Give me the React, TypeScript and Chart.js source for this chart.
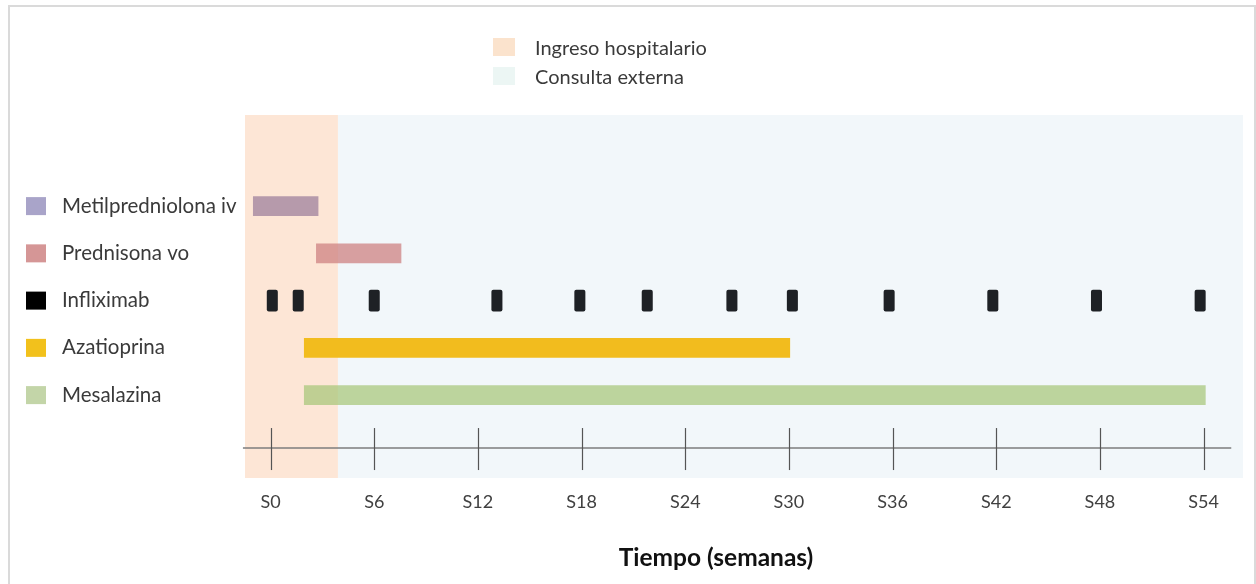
import React, { useEffect, useRef } from "react";
import { Chart, registerables } from "chart.js";

Chart.register(...registerables);

// ---- data ----
const treatments = ["Metilpredniolona iv", "Prednisona vo", "Infliximab", "Azatioprina", "Mesalazina"];
const treatmentStart = [-1.0, 2.65, null, 1.95, 1.95];
const treatmentEnd = [2.75, 7.55, null, 30.05, 54.1];
const infliximabRow = 2;
const infliximabWeeks = [0.1, 1.6, 6.0, 13.1, 17.9, 21.8, 26.7, 30.2, 35.8, 41.8, 47.8, 53.8];
const tickWeeks = [0, 6, 12, 18, 24, 30, 36, 42, 48, 54];
const tickLabels = ["S0", "S6", "S12", "S18", "S24", "S30", "S36", "S42", "S48", "S54"];
const phaseLabels = ["Ingreso hospitalario", "Consulta externa"];
const phaseStart = [-1.48, 3.9];
const phaseEnd = [3.9, 56.28];
const axisTitle = "Tiempo (semanas)";

// ---- layout / style ----
const X_MIN = -1.48;
const X_MAX = 56.28;
const Y_MIN = -1.928;
const Y_MAX = 5.754;
const AXIS_Y = 5.12;
const AXIS_FROM = -1.6;
const AXIS_TO = 55.6;
const DOSE_HALF = 0.3;
const FONT = "Lato, 'Open Sans', sans-serif";

const barColors = ["#b69aab", "rgba(206,130,130,0.75)", "#1e2125", "#f2bc1e", "rgba(166,198,121,0.72)"];
const keyColors = ["#a9a4c9", "#d59696", "#000000", "#f2c11c", "#c3d5a8"];
const phaseColors = ["#fde6d6", "#f2f7fa"];
const phaseKeyColors = ["#fbe3cd", "#ecf6f4"];

const backgroundPlugin = {
  id: "phaseBackground",
  beforeDatasetsDraw(chart: any) {
    const { ctx, chartArea, scales } = chart;
    const x = scales.x;
    const y = scales.y;
    ctx.save();
    phaseStart.forEach((s, i) => {
      const x0 = x.getPixelForValue(s);
      const x1 = x.getPixelForValue(phaseEnd[i]);
      ctx.fillStyle = phaseColors[i];
      ctx.fillRect(x0, chartArea.top, x1 - x0, chartArea.bottom - chartArea.top);
    });
    const ay = y.getPixelForValue(AXIS_Y);
    ctx.strokeStyle = "#7d7d7d";
    ctx.lineWidth = 1.5;
    ctx.beginPath();
    ctx.moveTo(x.getPixelForValue(AXIS_FROM), ay);
    ctx.lineTo(x.getPixelForValue(AXIS_TO), ay);
    ctx.stroke();
    ctx.strokeStyle = "#555555";
    ctx.lineWidth = 1.2;
    tickWeeks.forEach((w) => {
      const px = Math.round(x.getPixelForValue(w)) + 0.5;
      ctx.beginPath();
      ctx.moveTo(px, ay - 20);
      ctx.lineTo(px, ay + 22);
      ctx.stroke();
    });
    ctx.restore();
  },
};

const keysPlugin = {
  id: "keys",
  afterDraw(chart: any) {
    const { ctx, scales } = chart;
    const y = scales.y;
    ctx.save();
    treatments.forEach((_, i) => {
      const cy = y.getPixelForValue(i);
      ctx.fillStyle = keyColors[i];
      ctx.fillRect(26, cy - 9, 20, 18);
    });
    ctx.font = `20px ${FONT}`;
    ctx.textBaseline = "middle";
    ctx.textAlign = "left";
    phaseLabels.forEach((t, i) => {
      const cy = 47 + i * 29;
      ctx.fillStyle = phaseKeyColors[i];
      ctx.fillRect(493, cy - 9, 22, 18);
      ctx.fillStyle = "#3a3a3a";
      ctx.fillText(t, 535, cy + 2);
    });
    // axis title
    ctx.font = `bold 24.5px ${FONT}`;
    ctx.textAlign = "center";
    ctx.fillStyle = "#111111";
    ctx.fillText(axisTitle, 716, 558);
    ctx.restore();
  },
};

export default function App() {
  const canvasRef = useRef<HTMLCanvasElement | null>(null);

  useEffect(() => {
    if (!canvasRef.current) return;
    const datasets: any[] = [];
    treatments.forEach((name, i) => {
      if (treatmentStart[i] == null) return;
      datasets.push({
        label: name,
        data: [{ x: [treatmentStart[i], treatmentEnd[i]], y: i }],
        backgroundColor: barColors[i],
        barThickness: 19,
        borderSkipped: false,
        grouped: false,
      });
    });
    datasets.push({
      label: treatments[infliximabRow],
      data: infliximabWeeks.map((w) => ({ x: [w - DOSE_HALF, w + DOSE_HALF], y: infliximabRow })),
      backgroundColor: barColors[infliximabRow],
      barThickness: 21,
      borderRadius: 2,
      borderSkipped: false,
      grouped: false,
    });

    const chart = new Chart(canvasRef.current, {
      type: "bar",
      data: { datasets },
      options: {
        indexAxis: "y",
        responsive: false,
        animation: false,
        devicePixelRatio: 1,
        layout: { padding: { top: 115, left: 62, right: 13, bottom: 0 } },
        plugins: { legend: { display: false }, tooltip: { enabled: false } },
        scales: {
          x: {
            type: "linear",
            position: "bottom",
            min: X_MIN,
            max: X_MAX,
            offset: false,
            grid: { display: false, drawTicks: false },
            border: { display: false },
            afterBuildTicks: (s: any) => {
              s.ticks = tickWeeks.map((v) => ({ value: v }));
            },
            afterFit: (s: any) => {
              s.height = 106;
            },
            ticks: {
              autoSkip: false,
              maxRotation: 0,
              padding: 13,
              color: "#404040",
              font: { family: FONT, size: 18 },
              callback: (v: any) => tickLabels[tickWeeks.indexOf(Number(v))] ?? "",
            },
            title: { display: false },
          },
          y: {
            type: "linear",
            reverse: true,
            min: Y_MIN,
            max: Y_MAX,
            offset: false,
            grid: { display: false, drawTicks: false },
            border: { display: false },
            afterBuildTicks: (s: any) => {
              s.ticks = treatments.map((_, i) => ({ value: i }));
            },
            afterFit: (s: any) => {
              s.width = 183;
            },
            ticks: {
              autoSkip: false,
              crossAlign: "far",
              color: "#3a3a3a",
              font: { family: FONT, size: 20.5 },
              callback: (v: any) => treatments[Number(v)] ?? "",
            },
          },
        },
      } as any,
      plugins: [backgroundPlugin, keysPlugin],
    });
    return () => chart.destroy();
  }, []);

  return (
    <div style={{ position: "fixed", left: 0, top: 0, width: 1256, height: 584, overflow: "hidden", background: "#ffffff" }}>
      <canvas ref={canvasRef} width={1256} height={584} style={{ position: "absolute", left: 0, top: 0, width: 1256, height: 584 }} />
      <div
        style={{
          position: "absolute",
          left: 8,
          top: 5,
          width: 1248,
          height: 620,
          boxSizing: "border-box",
          borderTop: "2px solid #dadada",
          borderLeft: "2px solid #dadada",
          borderRight: "2px solid #dadada",
          pointerEvents: "none",
        }}
      />
    </div>
  );
}
